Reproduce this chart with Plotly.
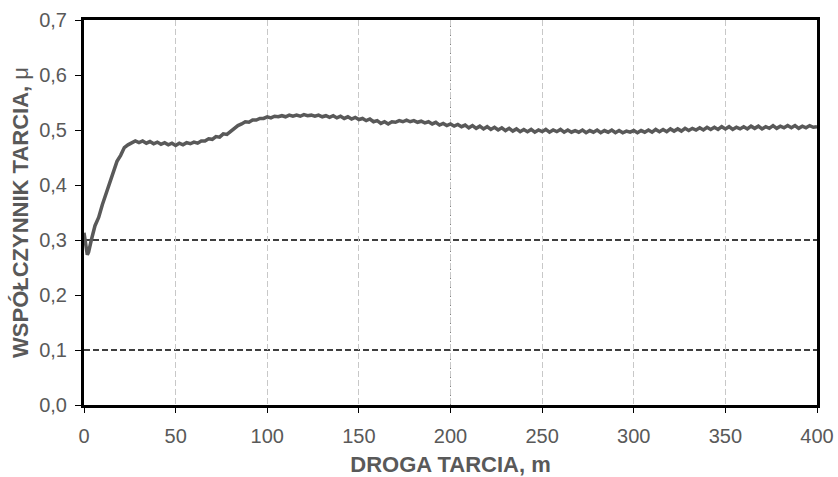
import plotly.graph_objects as go

# Friction distance [m] and coefficient of friction readings
distance = [0, 0.6, 1.2, 1.8, 2.5, 3.2, 4] + list(range(6, 401, 2))
mu = [
    0.313, 0.300, 0.282, 0.273, 0.278, 0.292, 0.300,
    0.326, 0.341, 0.364, 0.383, 0.406, 0.421, 0.443, 0.454, 0.468, 0.473,
    0.476, 0.480, 0.477, 0.480, 0.476, 0.479, 0.475, 0.478, 0.474, 0.477,
    0.473, 0.476, 0.472, 0.476, 0.473, 0.477, 0.475, 0.478, 0.476, 0.480,
    0.480, 0.484, 0.483, 0.488, 0.487, 0.493, 0.492, 0.498, 0.503, 0.508,
    0.511, 0.515, 0.514, 0.518, 0.518, 0.521, 0.521, 0.524, 0.522, 0.525,
    0.524, 0.526, 0.524, 0.527, 0.525, 0.527, 0.525, 0.528, 0.526, 0.527,
    0.525, 0.527, 0.524, 0.526, 0.523, 0.526, 0.522, 0.525, 0.521, 0.524,
    0.520, 0.523, 0.519, 0.521, 0.517, 0.520, 0.515, 0.517, 0.512, 0.515,
    0.511, 0.515, 0.514, 0.517, 0.515, 0.518, 0.515, 0.517, 0.514, 0.516,
    0.513, 0.515, 0.511, 0.514, 0.509, 0.512, 0.508, 0.511, 0.507, 0.510,
    0.506, 0.509, 0.504, 0.508, 0.503, 0.507, 0.502, 0.506, 0.501, 0.505,
    0.500, 0.504, 0.499, 0.503, 0.498, 0.502, 0.497, 0.501, 0.497, 0.501,
    0.496, 0.500, 0.497, 0.501, 0.496, 0.500, 0.497, 0.501, 0.496, 0.500,
    0.496, 0.499, 0.496, 0.500, 0.495, 0.499, 0.496, 0.500, 0.495, 0.499,
    0.496, 0.500, 0.495, 0.499, 0.495, 0.498, 0.496, 0.499, 0.495, 0.499,
    0.496, 0.500, 0.496, 0.501, 0.497, 0.501, 0.497, 0.502, 0.498, 0.502,
    0.498, 0.503, 0.499, 0.503, 0.500, 0.504, 0.500, 0.505, 0.501, 0.505,
    0.501, 0.506, 0.502, 0.506, 0.501, 0.505, 0.502, 0.506, 0.502, 0.507,
    0.503, 0.507, 0.502, 0.506, 0.503, 0.508, 0.503, 0.507, 0.504, 0.508,
    0.504, 0.508, 0.503, 0.507, 0.504, 0.508, 0.505, 0.506,
]

x_ticks = [0, 50, 100, 150, 200, 250, 300, 350, 400]
y_ticks = [0.0, 0.1, 0.2, 0.3, 0.4, 0.5, 0.6, 0.7]
y_ref_lines = [0.1, 0.3]
x_dark_line = 200

TEXT = "#595959"
FONT = "Liberation Sans, Arial, sans-serif"

fig = go.Figure()
fig.add_trace(go.Scatter(
    x=distance, y=mu, mode="lines",
    line=dict(color="#595959", width=3.5),
    showlegend=False, hoverinfo="skip",
))

shapes = []
for yv in y_ref_lines:
    shapes.append(dict(type="line", xref="x", yref="y", x0=0, x1=400, y0=yv, y1=yv,
                       line=dict(color="black", width=1.4, dash="6px,3px"), layer="below"))
shapes.append(dict(type="line", xref="x", yref="y", x0=x_dark_line, x1=x_dark_line, y0=0, y1=0.7,
                   line=dict(color="#7f7f7f", width=1, dash="6px,3px"), layer="below"))

fig.update_layout(
    width=838, height=477,
    margin=dict(l=84, r=21, t=20, b=72, autoexpand=False),
    paper_bgcolor="white", plot_bgcolor="white",
    separators=", ",
    font=dict(family=FONT, color=TEXT, size=20),
    shapes=shapes,
    xaxis=dict(
        range=[0, 400], tickvals=x_ticks, ticks="outside", ticklen=5, tickwidth=1,
        tickcolor="black", showline=True, linecolor="black", linewidth=3, mirror=True,
        showgrid=True, gridcolor="#c8c8c8", gridwidth=1, griddash="6px,3px",
        zeroline=False, tickfont=dict(size=20, color=TEXT), ticklabelstandoff=6,
        automargin=False,
        title=dict(text="<b>DROGA TARCIA, m</b>", font=dict(size=22, color=TEXT), standoff=14),
    ),
    yaxis=dict(
        range=[0, 0.7], tickvals=y_ticks, tickformat=".1f", ticks="outside", ticklen=6,
        tickwidth=1, tickcolor="black", showline=True, linecolor="black", linewidth=3,
        mirror=True, showgrid=False, zeroline=False, tickfont=dict(size=20, color=TEXT),
        ticklabelstandoff=4, automargin=False,
        title=dict(text="<b>WSPÓŁCZYNNIK TARCIA, </b>μ", font=dict(size=22, color=TEXT), standoff=5),
    ),
)

fig.write_html("out.html")
